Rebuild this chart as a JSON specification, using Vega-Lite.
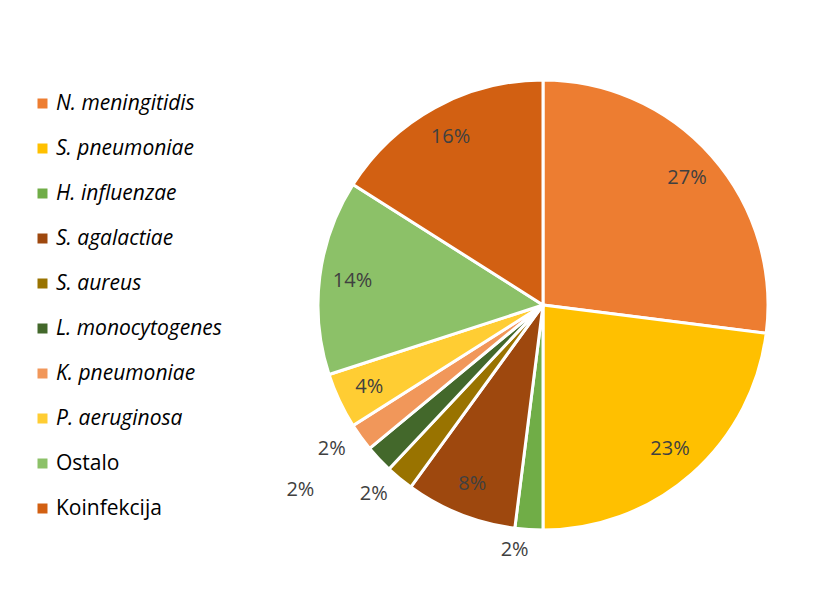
{
  "$schema": "https://vega.github.io/schema/vega-lite/v6.json",
  "autosize": "none",
  "width": 450,
  "height": 450,
  "padding": {"left": 318, "top": 80, "right": 67, "bottom": 60},
  "background": "white",
  "config": {"view": {"stroke": null}, "font": "Open Sans"},
  "data": {
    "values": [
      {"name": "N. meningitidis", "share": 0.27, "order": 1},
      {"name": "S. pneumoniae", "share": 0.23, "order": 2},
      {"name": "H. influenzae", "share": 0.02, "order": 3},
      {"name": "S. agalactiae", "share": 0.08, "order": 4},
      {"name": "S. aureus", "share": 0.02, "order": 5},
      {"name": "L. monocytogenes", "share": 0.02, "order": 6},
      {"name": "K. pneumoniae", "share": 0.02, "order": 7},
      {"name": "P. aeruginosa", "share": 0.04, "order": 8},
      {"name": "Ostalo", "share": 0.14, "order": 9},
      {"name": "Koinfekcija", "share": 0.16, "order": 10}
    ]
  },
  "encoding": {
    "theta": {"field": "share", "type": "quantitative", "stack": true},
    "order": {"field": "order", "type": "quantitative"}
  },
  "layer": [
    {
      "mark": {"type": "arc", "outerRadius": 225, "stroke": "white", "strokeWidth": 3},
      "encoding": {
        "color": {
          "field": "name",
          "type": "nominal",
          "scale": {
            "domain": ["N. meningitidis", "S. pneumoniae", "H. influenzae", "S. agalactiae", "S. aureus", "L. monocytogenes", "K. pneumoniae", "P. aeruginosa", "Ostalo", "Koinfekcija"],
            "range": ["#ED7D31", "#FFC000", "#70AD47", "#9E480E", "#997300", "#43682B", "#F1975A", "#FFCD33", "#8CC168", "#D26012"]
          },
          "legend": {
            "title": null,
            "orient": "none",
            "legendX": -286,
            "legendY": 13,
            "padding": 0,
            "symbolType": "square",
            "symbolSize": 100,
            "symbolStrokeWidth": 0,
            "labelFont": "Open Sans",
            "labelFontSize": 21,
            "labelColor": "#000000",
            "labelOffset": 3,
            "rowPadding": 23,
            "labelLimit": 300,
            "labelFontStyle": {"expr": "datum.label == 'Ostalo' || datum.label == 'Koinfekcija' ? 'normal' : 'italic'"}
          }
        }
      }
    },
    {
      "mark": {"type": "text", "radius": 192, "font": "Open Sans", "fontSize": 20, "color": "#404040"},
      "encoding": {
        "text": {
          "condition": {"test": "datum.share >= 0.04", "field": "share", "type": "quantitative", "format": ".0%"},
          "value": ""
        }
      }
    },
    {
      "mark": {"type": "text", "radius": 245, "dx": -13, "font": "Open Sans", "fontSize": 20, "color": "#404040"},
      "encoding": {
        "text": {
          "condition": {"test": "datum.name == 'H. influenzae' || datum.name == 'S. aureus' || datum.name == 'K. pneumoniae'", "field": "share", "type": "quantitative", "format": ".0%"},
          "value": ""
        }
      }
    },
    {
      "mark": {"type": "text", "radius": 245, "dx": -64, "dy": 17, "font": "Open Sans", "fontSize": 20, "color": "#404040"},
      "encoding": {
        "text": {
          "condition": {"test": "datum.name == 'L. monocytogenes'", "field": "share", "type": "quantitative", "format": ".0%"},
          "value": ""
        }
      }
    }
  ]
}
